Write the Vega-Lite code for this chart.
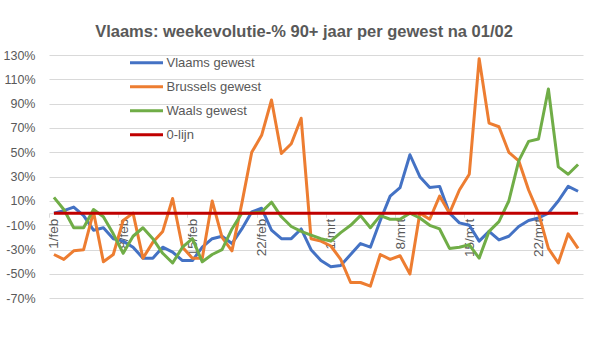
{
  "$schema": "https://vega.github.io/schema/vega-lite/v6.json",
  "width": 534,
  "height": 243.3,
  "autosize": {"type": "none"},
  "padding": {"left": 49, "top": 55, "right": 16, "bottom": 60.7},
  "background": "white",
  "title": {
    "text": "Vlaams: weekevolutie-% 90+ jaar per gewest na 01/02",
    "font": "Liberation Sans",
    "fontSize": 16.5,
    "fontWeight": "bold",
    "color": "#595959",
    "anchor": "middle",
    "frame": "group",
    "dx": -12,
    "offset": 9
  },
  "data": {
    "values": [
      {"dag": "1/feb", "Vlaams gewest": 0, "Brussels gewest": -34, "Waals gewest": 13, "0-lijn": 0},
      {"dag": "2/feb", "Vlaams gewest": 2, "Brussels gewest": -38, "Waals gewest": 3, "0-lijn": 0},
      {"dag": "3/feb", "Vlaams gewest": 5, "Brussels gewest": -31, "Waals gewest": -12, "0-lijn": 0},
      {"dag": "4/feb", "Vlaams gewest": -2, "Brussels gewest": -30, "Waals gewest": -12, "0-lijn": 0},
      {"dag": "5/feb", "Vlaams gewest": -14, "Brussels gewest": 1, "Waals gewest": 3, "0-lijn": 0},
      {"dag": "6/feb", "Vlaams gewest": -12, "Brussels gewest": -40, "Waals gewest": -3, "0-lijn": 0},
      {"dag": "7/feb", "Vlaams gewest": -21, "Brussels gewest": -34, "Waals gewest": -17, "0-lijn": 0},
      {"dag": "8/feb", "Vlaams gewest": -23, "Brussels gewest": -6, "Waals gewest": -33, "0-lijn": 0},
      {"dag": "9/feb", "Vlaams gewest": -28, "Brussels gewest": 0, "Waals gewest": -19, "0-lijn": 0},
      {"dag": "10/feb", "Vlaams gewest": -37, "Brussels gewest": -37, "Waals gewest": -12, "0-lijn": 0},
      {"dag": "11/feb", "Vlaams gewest": -37, "Brussels gewest": -24, "Waals gewest": -21, "0-lijn": 0},
      {"dag": "12/feb", "Vlaams gewest": -28, "Brussels gewest": -15, "Waals gewest": -33, "0-lijn": 0},
      {"dag": "13/feb", "Vlaams gewest": -32, "Brussels gewest": 12, "Waals gewest": -41, "0-lijn": 0},
      {"dag": "14/feb", "Vlaams gewest": -39, "Brussels gewest": -28, "Waals gewest": -28, "0-lijn": 0},
      {"dag": "15/feb", "Vlaams gewest": -39, "Brussels gewest": -37, "Waals gewest": -21, "0-lijn": 0},
      {"dag": "16/feb", "Vlaams gewest": -28, "Brussels gewest": -37, "Waals gewest": -40, "0-lijn": 0},
      {"dag": "17/feb", "Vlaams gewest": -21, "Brussels gewest": 10, "Waals gewest": -34, "0-lijn": 0},
      {"dag": "18/feb", "Vlaams gewest": -19, "Brussels gewest": -20, "Waals gewest": -30, "0-lijn": 0},
      {"dag": "19/feb", "Vlaams gewest": -25, "Brussels gewest": -31, "Waals gewest": -13, "0-lijn": 0},
      {"dag": "20/feb", "Vlaams gewest": -13, "Brussels gewest": 8, "Waals gewest": 0, "0-lijn": 0},
      {"dag": "21/feb", "Vlaams gewest": 1, "Brussels gewest": 50, "Waals gewest": 0, "0-lijn": 0},
      {"dag": "22/feb", "Vlaams gewest": 4, "Brussels gewest": 64, "Waals gewest": 1, "0-lijn": 0},
      {"dag": "23/feb", "Vlaams gewest": -14, "Brussels gewest": 93, "Waals gewest": 9, "0-lijn": 0},
      {"dag": "24/feb", "Vlaams gewest": -21, "Brussels gewest": 49, "Waals gewest": -3, "0-lijn": 0},
      {"dag": "25/feb", "Vlaams gewest": -21, "Brussels gewest": 57, "Waals gewest": -11, "0-lijn": 0},
      {"dag": "26/feb", "Vlaams gewest": -13, "Brussels gewest": 78, "Waals gewest": -15, "0-lijn": 0},
      {"dag": "27/feb", "Vlaams gewest": -30, "Brussels gewest": -21, "Waals gewest": -18, "0-lijn": 0},
      {"dag": "28/feb", "Vlaams gewest": -39, "Brussels gewest": -23, "Waals gewest": -21, "0-lijn": 0},
      {"dag": "1/mrt", "Vlaams gewest": -44, "Brussels gewest": -27, "Waals gewest": -23, "0-lijn": 0},
      {"dag": "2/mrt", "Vlaams gewest": -43, "Brussels gewest": -38, "Waals gewest": -16, "0-lijn": 0},
      {"dag": "3/mrt", "Vlaams gewest": -34, "Brussels gewest": -57, "Waals gewest": -10, "0-lijn": 0},
      {"dag": "4/mrt", "Vlaams gewest": -25, "Brussels gewest": -57, "Waals gewest": -2, "0-lijn": 0},
      {"dag": "5/mrt", "Vlaams gewest": -28, "Brussels gewest": -60, "Waals gewest": -12, "0-lijn": 0},
      {"dag": "6/mrt", "Vlaams gewest": -6, "Brussels gewest": -34, "Waals gewest": -2, "0-lijn": 0},
      {"dag": "7/mrt", "Vlaams gewest": 14, "Brussels gewest": -38, "Waals gewest": -5, "0-lijn": 0},
      {"dag": "8/mrt", "Vlaams gewest": 21, "Brussels gewest": -35, "Waals gewest": -5, "0-lijn": 0},
      {"dag": "9/mrt", "Vlaams gewest": 48, "Brussels gewest": -50, "Waals gewest": 0, "0-lijn": 0},
      {"dag": "10/mrt", "Vlaams gewest": 30, "Brussels gewest": 0, "Waals gewest": -4, "0-lijn": 0},
      {"dag": "11/mrt", "Vlaams gewest": 21, "Brussels gewest": -5, "Waals gewest": -10, "0-lijn": 0},
      {"dag": "12/mrt", "Vlaams gewest": 22, "Brussels gewest": 14, "Waals gewest": -13, "0-lijn": 0},
      {"dag": "13/mrt", "Vlaams gewest": 0, "Brussels gewest": 0, "Waals gewest": -29, "0-lijn": 0},
      {"dag": "14/mrt", "Vlaams gewest": -8, "Brussels gewest": 19, "Waals gewest": -28, "0-lijn": 0},
      {"dag": "15/mrt", "Vlaams gewest": -10, "Brussels gewest": 32, "Waals gewest": -26, "0-lijn": 0},
      {"dag": "16/mrt", "Vlaams gewest": -23, "Brussels gewest": 127, "Waals gewest": -37, "0-lijn": 0},
      {"dag": "17/mrt", "Vlaams gewest": -15, "Brussels gewest": 74, "Waals gewest": -15, "0-lijn": 0},
      {"dag": "18/mrt", "Vlaams gewest": -22, "Brussels gewest": 71, "Waals gewest": -7, "0-lijn": 0},
      {"dag": "19/mrt", "Vlaams gewest": -19, "Brussels gewest": 50, "Waals gewest": 10, "0-lijn": 0},
      {"dag": "20/mrt", "Vlaams gewest": -11, "Brussels gewest": 43, "Waals gewest": 43, "0-lijn": 0},
      {"dag": "21/mrt", "Vlaams gewest": -6, "Brussels gewest": 19, "Waals gewest": 59, "0-lijn": 0},
      {"dag": "22/mrt", "Vlaams gewest": -4, "Brussels gewest": 0, "Waals gewest": 61, "0-lijn": 0},
      {"dag": "23/mrt", "Vlaams gewest": 0, "Brussels gewest": -29, "Waals gewest": 102, "0-lijn": 0},
      {"dag": "24/mrt", "Vlaams gewest": 10, "Brussels gewest": -41, "Waals gewest": 38, "0-lijn": 0},
      {"dag": "25/mrt", "Vlaams gewest": 22, "Brussels gewest": -17, "Waals gewest": 32, "0-lijn": 0},
      {"dag": "26/mrt", "Vlaams gewest": 18, "Brussels gewest": -29, "Waals gewest": 40, "0-lijn": 0}
    ]
  },
  "transform": [
    {"fold": ["Vlaams gewest", "Brussels gewest", "Waals gewest", "0-lijn"], "as": ["reeks", "waarde"]}
  ],
  "mark": {"type": "line", "strokeWidth": 3, "strokeJoin": "round"},
  "encoding": {
    "x": {
      "field": "dag",
      "type": "ordinal",
      "sort": null,
      "scale": {"type": "point", "padding": 0.5},
      "axis": {
        "title": null,
        "values": ["1/feb", "8/feb", "15/feb", "22/feb", "1/mrt", "8/mrt", "15/mrt", "22/mrt"],
        "labelAngle": 270,
        "offset": -85.1,
        "domain": true,
        "domainColor": "#D9D9D9",
        "ticks": true,
        "tickColor": "#D9D9D9",
        "tickSize": 4,
        "tickOffset": -4.94,
        "labelOffset": 4.94,
        "labelPadding": 1,
        "labelOverlap": false,
        "labelFont": "Liberation Sans",
        "labelFontSize": 13.5,
        "labelColor": "#595959",
        "grid": false
      }
    },
    "y": {
      "field": "waarde",
      "type": "quantitative",
      "scale": {"domain": [-70, 130], "nice": false, "zero": false},
      "axis": {
        "title": null,
        "values": [-70, -50, -30, -10, 10, 30, 50, 70, 90, 110, 130],
        "labelExpr": "datum.value + '%'",
        "domain": false,
        "ticks": false,
        "labelPadding": 14,
        "labelFont": "Liberation Sans",
        "labelFontSize": 12.5,
        "labelColor": "#595959",
        "grid": true,
        "gridColor": "#D9D9D9",
        "gridWidth": 1
      }
    },
    "color": {
      "field": "reeks",
      "type": "nominal",
      "scale": {
        "domain": ["Vlaams gewest", "Brussels gewest", "Waals gewest", "0-lijn"],
        "range": ["#4472C4", "#ED7D31", "#70AD47", "#C00000"]
      },
      "legend": {
        "title": null,
        "orient": "none",
        "legendX": 79.5,
        "legendY": -4.3,
        "padding": 0,
        "symbolType": "stroke",
        "symbolSize": 1089,
        "symbolStrokeWidth": 3,
        "clipHeight": 24,
        "rowPadding": 0,
        "labelOffset": 2,
        "labelFont": "Liberation Sans",
        "labelFontSize": 13,
        "labelColor": "#595959"
      }
    }
  },
  "config": {"view": {"stroke": null}}
}
